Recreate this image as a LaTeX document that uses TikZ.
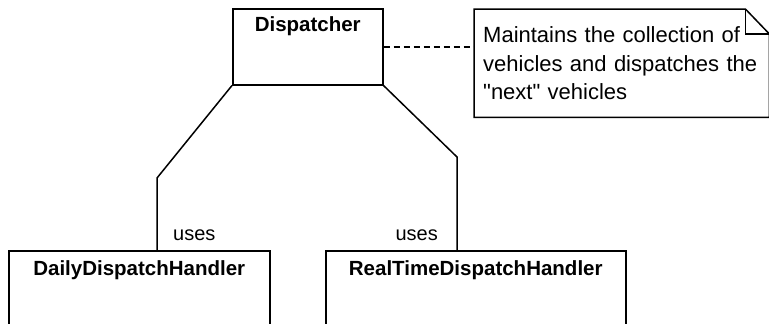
\documentclass[tikz,border=0pt]{standalone}
\usepackage{fontspec}
\setmainfont{Liberation Sans}
\usetikzlibrary{positioning}

\begin{document}
\begin{tikzpicture}[x=1pt, y=-1pt,
  classbox/.style={draw, line width=1.5pt, anchor=north west, inner sep=0pt},
  classname/.style={font=\fontsize{20.5}{24}\selectfont\bfseries, anchor=base, inner sep=0pt},
  usage/.style={font=\fontsize{20}{24}\selectfont, anchor=base west, inner sep=0pt},
  notetext/.style={font=\fontsize{22}{28.5}\selectfont, align=left, anchor=north west,
    inner xsep=9pt, inner ysep=0pt, text width=277pt, minimum height=108pt},
  link/.style={line width=1.5pt},
  anchorline/.style={line width=1.5pt, dash pattern=on 6pt off 4pt}
]
\useasboundingbox (0,0) rectangle (769,324);
\clip (0,0) rectangle (769,324);
% classes
\node[classbox, minimum width=150pt, minimum height=76pt] (disp) at (232,8) {};
\node[classname] (dispname) at ([yshift=-23pt]disp.north) {Dispatcher};
\node[classbox, minimum width=261pt, minimum height=100pt] (daily) at (8,250) {};
\node[classname] (dailyname) at ([yshift=-25pt]daily.north) {DailyDispatchHandler};
\node[classbox, minimum width=300pt, minimum height=100pt] (realtime) at (325,250) {};
\node[classname] (realtimename) at ([yshift=-25pt]realtime.north) {RealTimeDispatchHandler};
% note
\node[notetext] (note) at (474,9) {Maintains the collection of\\vehicles and dispatches the\\\textquotedbl next\textquotedbl{} vehicles};
\draw[link] (note.north west) -- ([xshift=-24pt]note.north east) -- ([yshift=-25pt]note.north east)
  -- (note.south east) -- (note.south west) -- cycle;
\draw[link] ([xshift=-24pt]note.north east) |- ([yshift=-25pt]note.north east);
\draw[anchorline] (disp.east) -- (disp.east -| note.west);
% associations
\coordinate (kinkL) at (157,178);
\coordinate (kinkR) at (457,157);
\draw[link] (disp.south west) -- (kinkL) -- (kinkL |- daily.north);
\draw[link] (disp.south east) -- (kinkR) -- (kinkR |- realtime.north);
\node[usage] (usesL) at (173,240) {uses};
\node[usage, anchor=base east] (usesR) at (438,240) {uses};
\end{tikzpicture}
\end{document}
